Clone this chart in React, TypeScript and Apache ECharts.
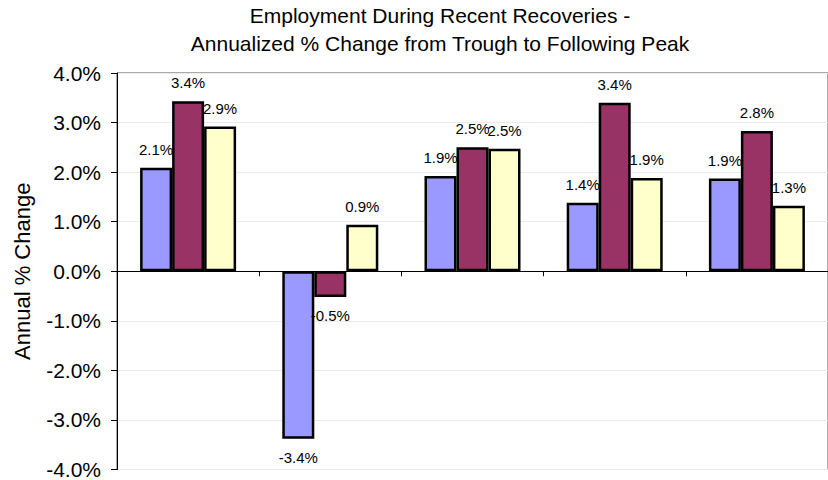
import React, { useEffect, useRef } from "react";
import * as echarts from "echarts";

const TITLE_LINES = [
  "Employment During Recent Recoveries -",
  "Annualized % Change from Trough to Following Peak",
];
const Y_AXIS_NAME = "Annual % Change";
const CATEGORIES = ["Recovery 1", "Recovery 2", "Recovery 3", "Recovery 4", "Recovery 5"];
const SERIES_NAMES = ["Series A", "Series B", "Series C"];
const SERIES_A = [2.09, -3.38, 1.92, 1.38, 1.87];
const SERIES_B = [3.43, -0.52, 2.5, 3.4, 2.83];
const SERIES_C = [2.92, 0.94, 2.47, 1.88, 1.32];
const SERIES_COLORS = ["#9999FF", "#993366", "#FFFFCC"];
const Y_MIN = -4;
const Y_MAX = 4;
const Y_INTERVAL = 1;

const FONT = "'Liberation Sans', Arial, Helvetica, sans-serif";

export default function App() {
  const ref = useRef<HTMLDivElement>(null);

  useEffect(() => {
    if (!ref.current) return;
    const chart = echarts.init(ref.current, null, { renderer: "svg" });
    const allValues = [SERIES_A, SERIES_B, SERIES_C];

    const series = allValues.map((vals, i) => ({
      name: SERIES_NAMES[i],
      type: "bar",
      barWidth: 32,
      barGap: "0%",
      z: 2 + i,
      itemStyle: {
        color: SERIES_COLORS[i],
        borderColor: "#000",
        borderWidth: 2.5,
      },
      label: {
        show: true,
        fontFamily: FONT,
        fontSize: 15,
        color: "#000",
        distance: 11,
        formatter: (p: any) => `${Number(p.value).toFixed(1)}%`,
      },
      data: vals.map((v) => ({
        value: v,
        label: { position: v < 0 ? "bottom" : "top" },
      })),
    }));

    chart.setOption({
      animation: false,
      backgroundColor: "#fff",
      title: {
        text: TITLE_LINES.join("\n"),
        left: 440,
        top: 1,
        padding: 0,
        textAlign: "center",
        textStyle: {
          fontFamily: FONT,
          fontSize: 21,
          fontWeight: "normal",
          lineHeight: 28,
          color: "#000",
        },
      },
      grid: {
        left: 117,
        top: 73,
        width: 720,
        height: 399,
        show: true,
        borderColor: "#555",
        borderWidth: 1,
        backgroundColor: "transparent",
        containLabel: false,
      },
      xAxis: {
        type: "category",
        data: CATEGORIES,
        boundaryGap: true,
        axisLine: { show: true, onZero: true, lineStyle: { color: "#000", width: 1 } },
        axisTick: { show: true, length: 5, inside: false, lineStyle: { color: "#000" } },
        axisLabel: { show: false },
        splitLine: { show: false },
      },
      yAxis: {
        type: "value",
        min: Y_MIN,
        max: Y_MAX,
        interval: Y_INTERVAL,
        name: Y_AXIS_NAME,
        nameLocation: "middle",
        nameRotate: 90,
        nameGap: 84,
        nameTextStyle: { fontFamily: FONT, fontSize: 22, color: "#000" },
        axisLine: { show: true, lineStyle: { color: "#000", width: 1 } },
        axisTick: { show: true, length: 6, inside: false, lineStyle: { color: "#000" } },
        axisLabel: {
          fontFamily: FONT,
          fontSize: 21,
          color: "#000",
          margin: 16,
          formatter: (v: number) => `${v.toFixed(1)}%`,
        },
        splitLine: { show: true, lineStyle: { color: "#ebebeb", width: 1 } },
      },
      series,
    });

    return () => {
      chart.dispose();
    };
  }, []);

  return (
    <div
      ref={ref}
      style={{ position: "fixed", left: 0, top: 0, width: 828, height: 480, background: "#fff" }}
    />
  );
}
